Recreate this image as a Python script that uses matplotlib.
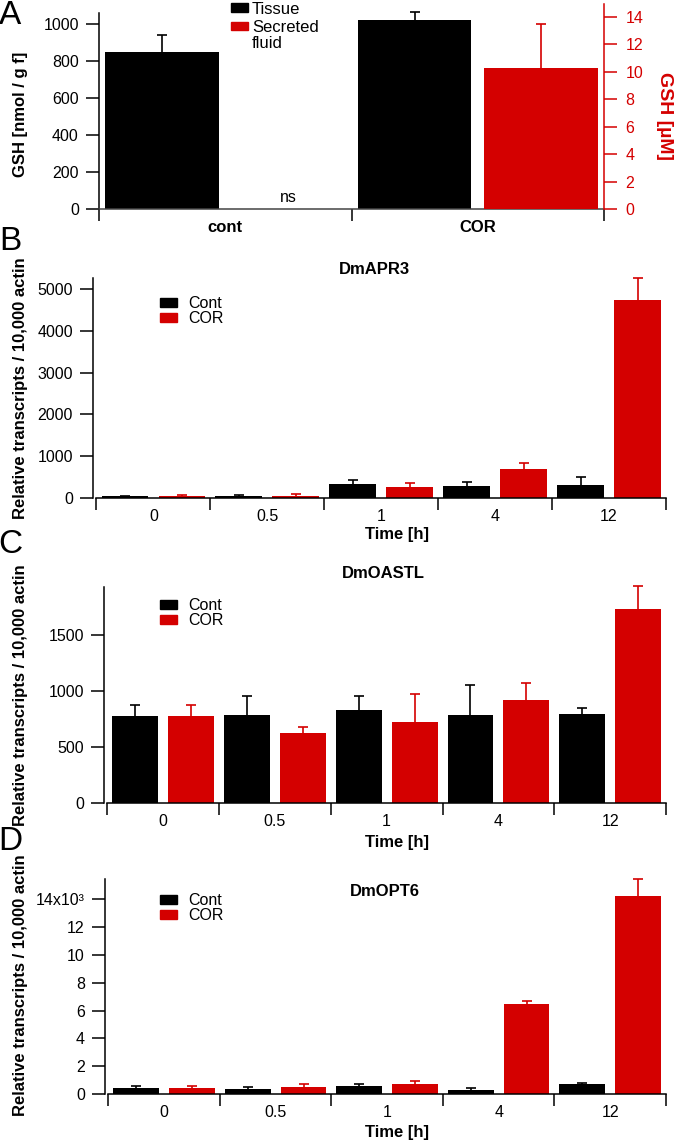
import numpy as np
import matplotlib
matplotlib.use("Agg")
import matplotlib.pyplot as plt
from matplotlib.patches import Patch

plt.rcParams['font.family'] = ['Liberation Sans', 'DejaVu Sans']

# ---------------- data ----------------
RED = '#d40000'
BLACK = '#000000'

# Panel A
a_categories = ['cont', 'COR']
a_tissue = [851, 1022]          # nmol / g f
a_tissue_err = [88, 41]
a_fluid = [0.0, 10.3]           # µM (cont: ns)
a_fluid_err = [0.0, 3.2]

# Panels B-D
times = ['0', '0.5', '1', '4', '12']

b_cont = [40, 40, 336, 280, 304]
b_cont_err = [16, 24, 104, 96, 192]
b_cor = [40, 48, 256, 688, 4736]
b_cor_err = [24, 40, 96, 160, 528]

c_cont = [774, 789, 830, 786, 798]
c_cont_err = [98, 166, 125, 265, 50]
c_cor = [774, 625, 723, 920, 1729]
c_cor_err = [98, 57, 247, 151, 208]

d_cont = [0.43, 0.36, 0.55, 0.29, 0.71]      # x10^3
d_cont_err = [0.12, 0.14, 0.14, 0.11, 0.08]
d_cor = [0.43, 0.48, 0.69, 6.45, 14.24]
d_cor_err = [0.12, 0.26, 0.24, 0.24, 1.24]
d_ytick_labels = ['0', '2', '4', '6', '8', '10', '12', '14x10³']

# ---------------- figure ----------------
W, H = 677, 1143
fig = plt.figure(figsize=(W / 100, H / 100), dpi=100)


def axpix(l, t, r, b):
    return fig.add_axes([l / W, 1 - b / H, (r - l) / W, (b - t) / H])


def fx(x):
    return x / W


def fy(y):
    return 1 - y / H


TICK_FS = 11.5
LAB_FS = 12
LEG_FS = 11.5
LW = 1.1


def errbars(ax, x, v, e, color):
    eb = ax.errorbar(x, v, yerr=[np.zeros(len(v)), e], fmt='none',
                     ecolor=color, elinewidth=1.2, capsize=3.8, capthick=1.2,
                     clip_on=False, zorder=3)
    eb[1][0].set_visible(False)
    for c in eb[2]:
        c.set_clip_on(False)
    for c in eb[1]:
        c.set_clip_on(False)


def style_x(ax, n, labels, pad):
    ax.set_xticks(np.arange(n + 1))
    ax.set_xticks(np.arange(n) + 0.5, minor=True)
    ax.set_xticklabels([''] * (n + 1))
    ax.set_xticklabels(labels, minor=True)
    ax.tick_params(axis='x', which='major', length=8.5, width=LW, direction='out')
    ax.tick_params(axis='x', which='minor', length=0, pad=pad, labelsize=TICK_FS)


# ---------------- Panel A ----------------
axA = axpix(99, 4, 604, 209)
xA = np.arange(len(a_categories))
axA.bar(xA + 0.25, a_tissue, width=0.45, color=BLACK, linewidth=0, zorder=2)
errbars(axA, xA + 0.25, a_tissue, a_tissue_err, BLACK)
axA.set_xlim(0, 2)
axA.set_ylim(0, 1108)
axA.set_yticks(np.arange(0, 1001, 200))
axA.spines['left'].set_bounds(0, 1060)
axA.spines['top'].set_visible(False)
axA.spines['right'].set_visible(False)
for s in ['left', 'bottom']:
    axA.spines[s].set_linewidth(LW)
axA.spines['bottom'].set_color('#444444')
axA.tick_params(axis='y', length=9.5, width=LW, pad=5, labelsize=TICK_FS)
style_x(axA, 2, a_categories, 8)
for t in axA.get_xticklabels(minor=True):
    t.set_fontweight('bold')
    t.set_fontsize(LAB_FS)

axA2 = axA.twinx()
axA2.bar(xA + 0.75, a_fluid, width=0.45, color=RED, linewidth=0, zorder=2)
errbars(axA2, xA[1:] + 0.75, a_fluid[1:], a_fluid_err[1:], RED)
axA2.set_ylim(0, 14.95)
axA2.set_yticks(np.arange(0, 15, 2))
for s in ['left', 'top', 'bottom']:
    axA2.spines[s].set_visible(False)
axA2.spines['right'].set_color(RED)
axA2.spines['right'].set_linewidth(LW)
axA2.tick_params(axis='y', length=9.5, width=LW, pad=6, labelsize=TICK_FS,
                 colors=RED)
axA2.text(0.75, 0.3, 'ns', ha='center', va='bottom', fontsize=TICK_FS)

axA.legend([Patch(color=BLACK), Patch(color=RED)], ['Tissue', 'Secreted'],
           loc='upper left', bbox_to_anchor=(fx(231), fy(1.5)),
           bbox_transform=fig.transFigure, frameon=False, fontsize=12,
           handlelength=1.0, handleheight=0.4, handletextpad=0.25,
           labelspacing=0.2, borderpad=0, borderaxespad=0)
fig.text(fx(252), fy(43), 'fluid', ha='left', va='center', fontsize=12)

fig.text(fx(21), fy(114), 'GSH [nmol / g f]', rotation=90, ha='center',
         va='center', fontweight='bold', fontsize=LAB_FS)
fig.text(fx(665), fy(116), 'GSH [µM]', rotation=270, ha='center', va='center',
         fontweight='bold', fontsize=14, color=RED)


# ---------------- Panels B-D ----------------
def time_panel(box, cont, cont_err, cor, cor_err, ylim, yticks, title, title_xy,
               leg_top, xlabel_y, ylab_y, yticklabels=None):
    ax = axpix(*box)
    x = np.arange(len(times))
    ax.bar(x + 0.25, cont, width=0.41, color=BLACK, linewidth=0, zorder=2)
    ax.bar(x + 0.75, cor, width=0.41, color=RED, linewidth=0, zorder=2)
    errbars(ax, x + 0.25, cont, cont_err, BLACK)
    errbars(ax, x + 0.75, cor, cor_err, RED)
    ax.set_xlim(-0.03, 5)
    ax.set_ylim(0, ylim)
    ax.set_yticks(yticks)
    if yticklabels is not None:
        ax.set_yticklabels(yticklabels)
    ax.spines['top'].set_visible(False)
    ax.spines['right'].set_visible(False)
    ax.spines['bottom'].set_bounds(0, 5)
    for s in ['left', 'bottom']:
        ax.spines[s].set_linewidth(LW)
    ax.tick_params(axis='y', length=9.5, width=LW, pad=5, labelsize=TICK_FS)
    style_x(ax, 5, times, 8)
    ax.legend([Patch(color=BLACK), Patch(color=RED)], ['Cont', 'COR'],
              loc='upper left', bbox_to_anchor=(fx(160), fy(leg_top)),
              bbox_transform=fig.transFigure, frameon=False, fontsize=LEG_FS,
              handlelength=1.05, handleheight=0.45, handletextpad=0.7,
              labelspacing=0.0, borderpad=0, borderaxespad=0)
    fig.text(fx(title_xy[0]), fy(title_xy[1]), title, ha='center', va='center',
             fontweight='bold', fontsize=LAB_FS)
    fig.text(fx(397), fy(xlabel_y), 'Time [h]', ha='center', va='center',
             fontweight='bold', fontsize=LAB_FS)
    fig.text(fx(21), fy(ylab_y), 'Relative transcripts / 10,000 actin',
             rotation=90, ha='center', va='center', fontweight='bold',
             fontsize=LAB_FS)
    return ax


time_panel((93, 278, 666, 498), b_cont, b_cont_err, b_cor, b_cor_err,
           5260, np.arange(0, 5001, 1000), 'DmAPR3', (374, 270),
           296, 534, 388)
time_panel((104, 587, 666, 803), c_cont, c_cont_err, c_cor, c_cor_err,
           1930, [0, 500, 1000, 1500], 'DmOASTL', (383, 573),
           598, 842, 695)
time_panel((105, 879, 666, 1094), d_cont, d_cont_err, d_cor, d_cor_err,
           15.45, np.arange(0, 15, 2), 'DmOPT6', (385, 891),
           893, 1132, 985, yticklabels=d_ytick_labels)

# panel letters
for letter, yy in [('A', 16), ('B', 242), ('C', 545), ('D', 842)]:
    fig.text(fx(10), fy(yy), letter, ha='center', va='center', fontsize=24)

fig.savefig('out.png', dpi=100)
